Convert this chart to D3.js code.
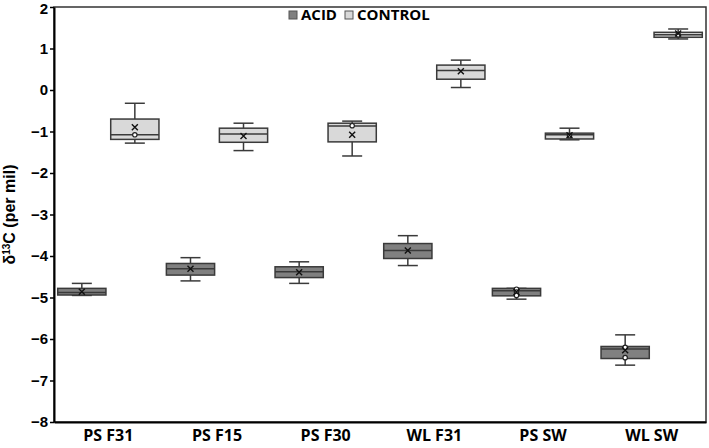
<!DOCTYPE html>
<meta charset="utf-8" />
<script src="https://d3js.org/d3.v7.min.js"></script>
<style>
    body { margin: 0; background: #fff; }
</style>
<div id="chart"></div>
<script>
    // sites along the x axis
    const sites = ['PS F31', 'PS F15', 'PS F30', 'WL F31', 'PS SW', 'WL SW']
    const treatments = ['ACID', 'CONTROL']
    const yTicks = [2, 1, 0, -1, -2, -3, -4, -5, -6, -7, -8]

    // box stats per site: [whisker low, q1, median, q3, whisker high, mean]
    const acidBoxes = [
        [-4.95, -4.94, -4.88, -4.78, -4.66, -4.86],
        [-4.60, -4.46, -4.31, -4.18, -4.04, -4.31],
        [-4.66, -4.52, -4.38, -4.26, -4.14, -4.39],
        [-4.23, -4.06, -3.87, -3.70, -3.51, -3.87],
        [-5.04, -4.96, -4.84, -4.78, -4.78, -4.87],
        [-6.63, -6.47, -6.24, -6.18, -5.90, -6.27]
    ]
    const controlBoxes = [
        [-1.28, -1.19, -1.08, -0.70, -0.32, -0.90],
        [-1.46, -1.26, -1.06, -0.92, -0.80, -1.11],
        [-1.59, -1.25, -0.87, -0.80, -0.75, -1.08],
        [0.06, 0.26, 0.47, 0.60, 0.72, 0.45],
        [-1.20, -1.18, -1.08, -1.04, -0.92, -1.09],
        [1.23, 1.27, 1.33, 1.39, 1.47, 1.36]
    ]
    // inner points drawn as small circles
    const acidPoints = [[], [], [], [], [-4.80, -4.87, -4.95], [-6.20, -6.45]]
    const controlPoints = [[-1.08], [], [-0.86], [], [-1.10], [1.33]]

    const colors = { ACID: '#808080', CONTROL: '#d9d9d9' }

    const W = 709, H = 448
    const margin = { top: 7, right: 3, bottom: 26, left: 54 }

    const svg = d3.select('#chart').append('svg')
        .attr('width', W).attr('height', H)

    const x = d3.scaleBand().domain(sites)
        .range([margin.left, W - margin.right])
    const xSub = d3.scaleBand().domain(treatments)
        .range([0, x.bandwidth()])
        .paddingInner(0.09).paddingOuter(0.07)
    const y = d3.scaleLinear().domain([-8, 2])
        .range([H - margin.bottom, margin.top])

    // frame: thin top/right border
    svg.append('rect')
        .attr('x', margin.left).attr('y', margin.top)
        .attr('width', W - margin.left - margin.right)
        .attr('height', H - margin.top - margin.bottom)
        .attr('fill', 'none').attr('stroke', '#333').attr('stroke-width', 1.5)

    // y axis
    const yAxis = svg.append('g')
        .attr('transform', `translate(${margin.left},0)`)
        .call(d3.axisLeft(y).tickValues(yTicks).tickSize(4).tickSizeOuter(0)
            .tickFormat(d => d3.format('')(d).replace('-', '\u2212')))
    yAxis.select('.domain').attr('stroke', '#000').attr('stroke-width', 2)
    yAxis.selectAll('.tick line').attr('stroke', '#000').attr('stroke-width', 1.5)
    yAxis.selectAll('text')
        .attr('font-family', 'Liberation Sans, Arial, sans-serif')
        .attr('font-weight', 'bold').attr('font-size', '15px')
        .attr('fill', '#000').attr('x', -6)
        .attr('dy', d => d === 2 ? '0.45em' : '0.32em')

    // x axis
    const xAxis = svg.append('g')
        .attr('transform', `translate(0,${H - margin.bottom})`)
        .call(d3.axisBottom(x).tickSize(0).tickSizeOuter(0))
    xAxis.select('.domain').attr('stroke', '#000').attr('stroke-width', 2)
    xAxis.selectAll('text')
        .attr('font-family', 'Open Sans, sans-serif')
        .attr('font-weight', 'bold').attr('font-size', '16px')
        .attr('fill', '#000').attr('dy', '0.71em').attr('y', 8)

    // y title
    const yTitle = svg.append('text')
        .attr('transform', `translate(15,${(margin.top + H - margin.bottom) / 2}) rotate(-90)`)
        .attr('text-anchor', 'middle')
        .attr('font-family', 'Liberation Sans, Arial, sans-serif')
        .attr('font-weight', 'bold').attr('font-size', '16px')
    yTitle.append('tspan').text('δ')
    yTitle.append('tspan').text('13').attr('font-size', '10px').attr('dy', '-0.5em')
    yTitle.append('tspan').text('C (per mil)').attr('dy', '0.3em')

    // build records for drawing
    const boxes = []
    sites.forEach((s, i) => {
        boxes.push({ site: s, t: 'ACID', v: acidBoxes[i], pts: acidPoints[i] })
        boxes.push({ site: s, t: 'CONTROL', v: controlBoxes[i], pts: controlPoints[i] })
    })

    const capW = 10
    const g = svg.selectAll('.box').data(boxes).join('g')
        .attr('class', 'box')
        .attr('transform', d => `translate(${x(d.site) + xSub(d.t)},0)`)

    const cx = xSub.bandwidth() / 2
    const stroke = '#3a3a3a'

    // whiskers
    g.append('line')
        .attr('x1', cx).attr('x2', cx)
        .attr('y1', d => y(d.v[0])).attr('y2', d => y(d.v[4]))
        .attr('stroke', stroke).attr('stroke-width', 1.5)
    g.append('line')
        .attr('x1', cx - capW).attr('x2', cx + capW)
        .attr('y1', d => y(d.v[0])).attr('y2', d => y(d.v[0]))
        .attr('stroke', stroke).attr('stroke-width', 1.5)
    g.append('line')
        .attr('x1', cx - capW).attr('x2', cx + capW)
        .attr('y1', d => y(d.v[4])).attr('y2', d => y(d.v[4]))
        .attr('stroke', stroke).attr('stroke-width', 1.5)

    // box
    g.append('rect')
        .attr('x', 0).attr('width', xSub.bandwidth())
        .attr('y', d => y(d.v[3]))
        .attr('height', d => y(d.v[1]) - y(d.v[3]))
        .attr('fill', d => colors[d.t])
        .attr('stroke', stroke).attr('stroke-width', 1.5)

    // median
    g.append('line')
        .attr('x1', 0).attr('x2', xSub.bandwidth())
        .attr('y1', d => y(d.v[2])).attr('y2', d => y(d.v[2]))
        .attr('stroke', stroke).attr('stroke-width', 1.5)

    // points
    g.selectAll('circle').data(d => d.pts).join('circle')
        .attr('cx', cx).attr('cy', d => y(d)).attr('r', 2.2)
        .attr('fill', '#fff').attr('stroke', '#222').attr('stroke-width', 1.2)

    // mean marker
    const m = 3
    g.append('path')
        .attr('d', d => {
            const yy = y(d.v[5])
            return `M${cx - m},${yy - m}L${cx + m},${yy + m}M${cx - m},${yy + m}L${cx + m},${yy - m}`
        })
        .attr('stroke', '#111').attr('stroke-width', 1.4)

    // legend
    const legend = svg.append('g').attr('transform', 'translate(289,15)')
    const items = [{ t: 'ACID', x: 0 }, { t: 'CONTROL', x: 56 }]
    const li = legend.selectAll('g').data(items).join('g')
        .attr('transform', d => `translate(${d.x},0)`)
    li.append('rect')
        .attr('x', 0).attr('y', -4).attr('width', 8).attr('height', 8)
        .attr('fill', d => colors[d.t]).attr('stroke', '#555').attr('stroke-width', 1)
    li.append('text')
        .attr('x', 12).attr('y', 0).attr('dy', '0.35em')
        .attr('font-family', 'Open Sans, sans-serif')
        .attr('font-weight', 'bold').attr('font-size', '15px')
        .text(d => d.t)
</script>
